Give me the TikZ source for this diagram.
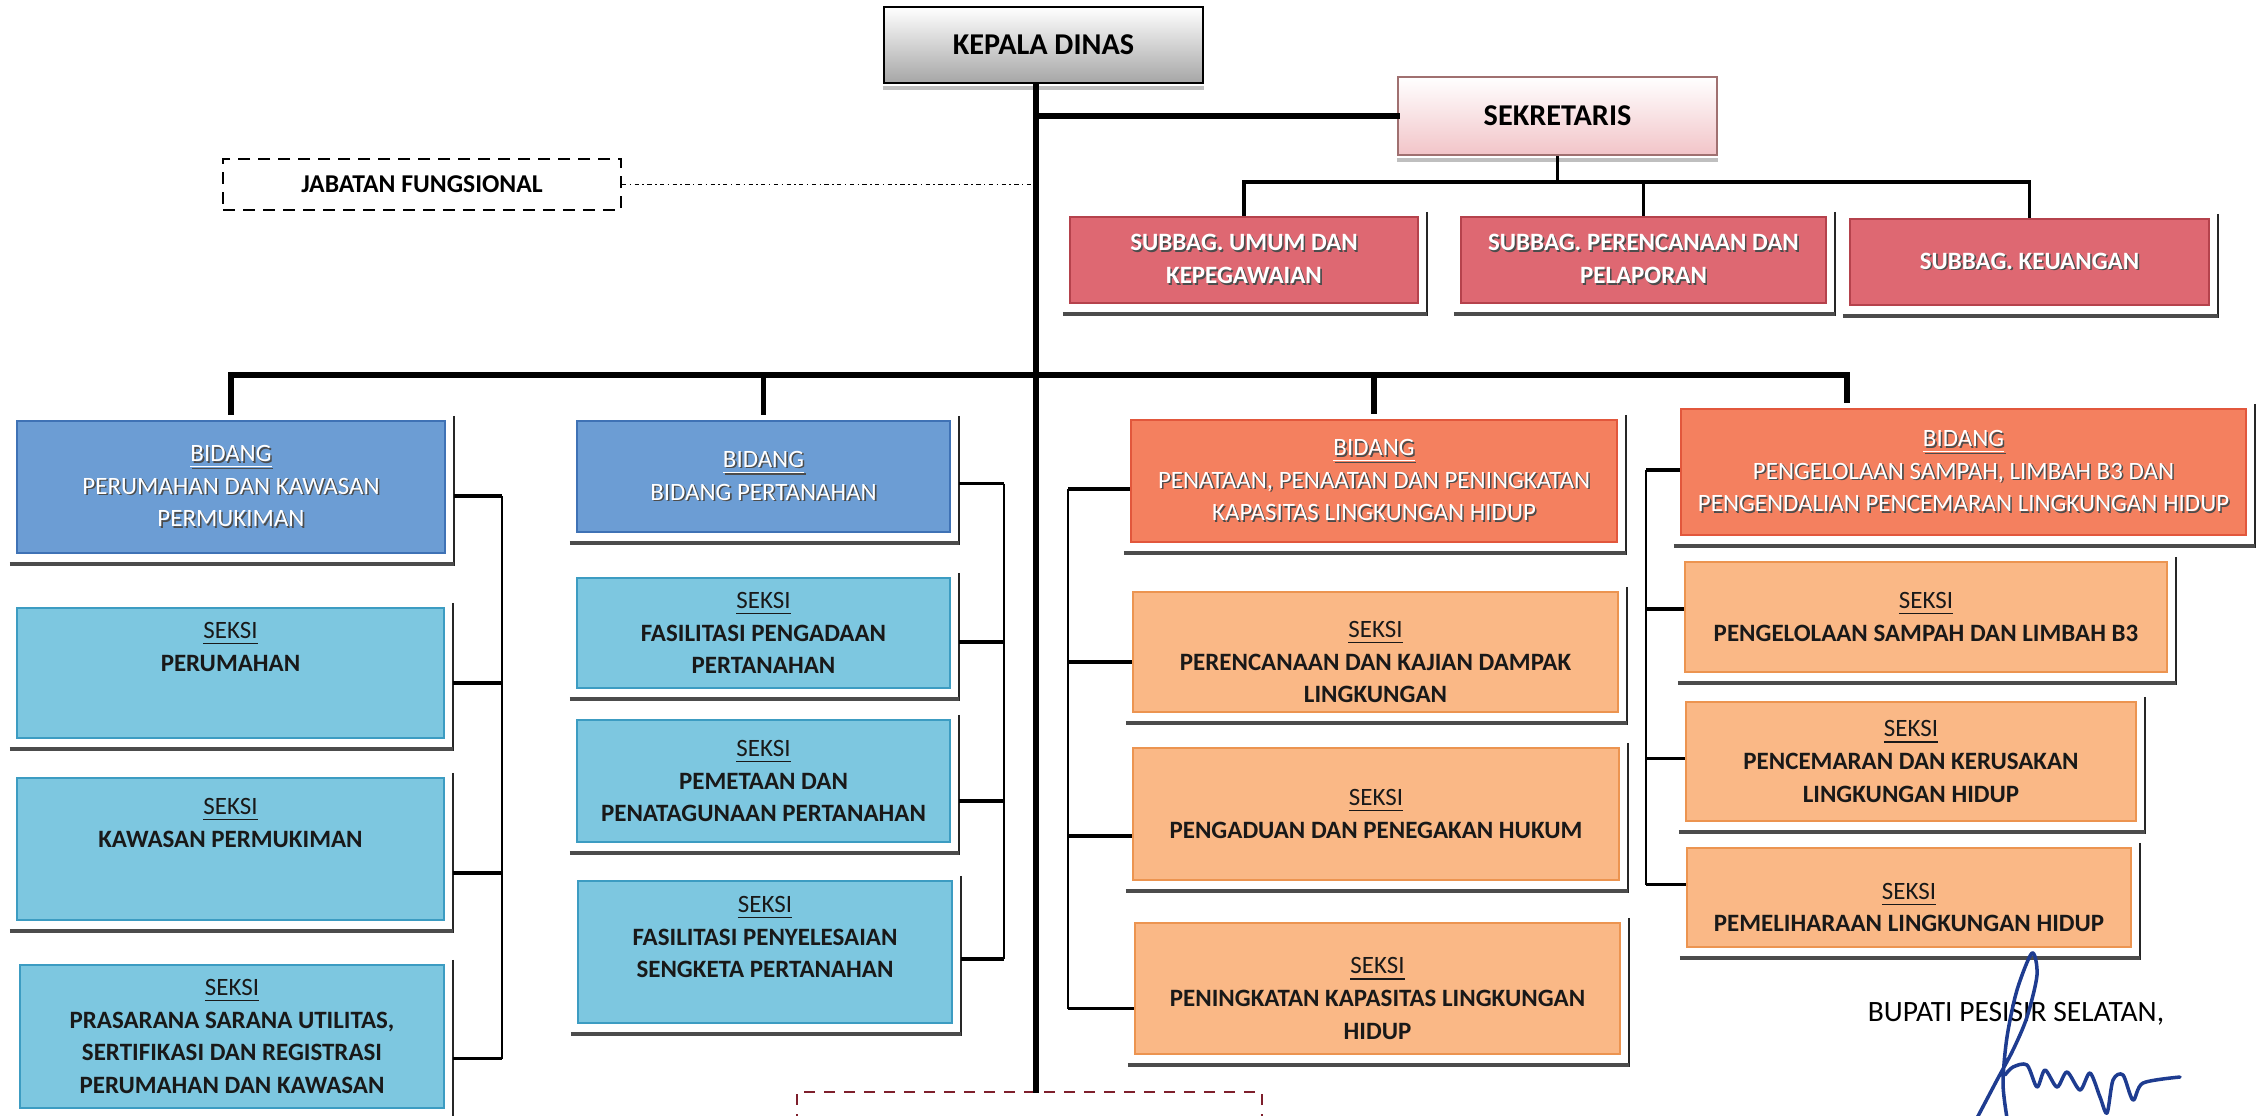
\documentclass[tikz,border=0pt]{standalone}
\usepackage{fontspec}
\setmainfont{Carlito}
\usepackage{xcolor}
\usepackage{tikz}
\usetikzlibrary{fit}
\definecolor{SubRed}{HTML}{DE6872}
\definecolor{SubLine}{HTML}{B5424C}
\definecolor{SekPink}{HTML}{F2C4C8}
\definecolor{SekLine}{HTML}{A07070}
\definecolor{BidBlue}{HTML}{6C9DD4}
\definecolor{BidBlueLine}{HTML}{3F72B5}
\definecolor{SkBlue}{HTML}{7DC7E0}
\definecolor{SkBlueLine}{HTML}{3C9CC2}
\definecolor{BidOrange}{HTML}{F4805F}
\definecolor{BidOrangeLine}{HTML}{E2573C}
\definecolor{SkOrange}{HTML}{FAB886}
\definecolor{SkOrangeLine}{HTML}{EC9450}
\definecolor{DashRed}{HTML}{7E1F2C}
\definecolor{Ink}{HTML}{1E3C90}
\newcommand\orgfont{\fontsize{7.1}{9.3}\selectfont}
\newcommand\headfont{\fontsize{8.6}{10}\selectfont\bfseries}
\newcommand\embos[1]{\makebox[0pt][l]{\hspace{.45pt}\raisebox{-.45pt}{\color{black!70}#1}}#1}

\begin{document}
\begin{tikzpicture}[
  x=0.1mm,y=-0.1mm,
  box/.style={draw,inner sep=0pt,line width=.6pt},
  headbox/.style={box,draw=black,line width=.8pt,top color=white,bottom color=black!35},
  sekbox/.style={box,draw=SekLine,top color=white,bottom color=SekPink},
  jfbox/.style={box,dashed,dash pattern=on 1.2mm off .8mm,line width=.6pt},
  dashbox/.style={box,draw=DashRed,dash pattern=on 1.1mm off .9mm,line width=.8pt},
  subbox/.style={box,draw=SubLine,fill=SubRed},
  bidblue/.style={box,draw=BidBlueLine,fill=BidBlue},
  skblue/.style={box,draw=SkBlueLine,fill=SkBlue},
  bidorange/.style={box,draw=BidOrangeLine,fill=BidOrange},
  skorange/.style={box,draw=SkOrangeLine,fill=SkOrange},
  htxt/.style={align=center,font=\headfont,inner sep=0pt},
  wtxt/.style={align=center,text=white,font=\orgfont,inner sep=0pt},
  wbtxt/.style={wtxt,font=\orgfont\bfseries},
  dtxt/.style={align=center,text=black!90,font=\orgfont\bfseries,inner sep=0pt},
  trunk/.style={line width=1.6pt,line cap=rect},
  link/.style={line width=.9pt},
  stub/.style={line width=1pt},
  brk/.style={line width=.6pt},
  dashdot/.style={line width=.5pt,dash pattern=on 1.2pt off 1pt on .4pt off 1pt},
  shline/.style={line width=.45pt,black!85},
  shstrip/.style={line width=1.1pt,black!70},
  sig/.style={draw=Ink,line width=1pt,line cap=round,line join=round}
]
\useasboundingbox (0,0) rectangle (2260,1115);
\clip (0,0) rectangle (2260,1115);

% top
\node[headbox,fit={(884,7) (1203,83)}] (kd) {};
\node[htxt] (kd-t) at (kd) {KEPALA DINAS};
\node[sekbox,fit={(1398,77) (1717,155)}] (sek) {};
\node[htxt] (sek-t) at (sek) {SEKRETARIS};
\node[jfbox,fit={(223,159) (621,210)}] (jf) {};
\node[htxt,font=\fontsize{7.3}{9}\selectfont\bfseries] (jf-t) at (jf) {JABATAN FUNGSIONAL};

% subbagian
\node[subbox,fit={(1070,217) (1418,303)}] (sb1) {};
\node[wbtxt] (sb1-t) at (sb1) {\embos{SUBBAG. UMUM DAN}\\\embos{KEPEGAWAIAN}};
\node[subbox,fit={(1461,217) (1826,303)}] (sb2) {};
\node[wbtxt] (sb2-t) at (sb2) {\embos{SUBBAG. PERENCANAAN DAN}\\\embos{PELAPORAN}};
\node[subbox,fit={(1850,219) (2209,305)}] (sb3) {};
\node[wbtxt] (sb3-t) at (sb3) {\embos{SUBBAG. KEUANGAN}};

% bidang
\node[bidblue,fit={(17,421) (445,553)}] (b1) {};
\node[wtxt] (b1-t) at (b1) {\embos{\underline{BIDANG}}\\\embos{PERUMAHAN DAN KAWASAN}\\\embos{PERMUKIMAN}};
\node[bidblue,fit={(577,421) (950,532)}] (b2) {};
\node[wtxt] (b2-t) at (b2) {\embos{\underline{BIDANG}}\\\embos{BIDANG PERTANAHAN}};
\node[bidorange,fit={(1131,420) (1617,542)}] (b3) {};
\node[wtxt] (b3-t) at (b3) {\embos{\underline{BIDANG}}\\\embos{PENATAAN, PENAATAN DAN PENINGKATAN}\\\embos{KAPASITAS LINGKUNGAN HIDUP}};
\node[bidorange,fit={(1681,409) (2246,535)}] (b4) {};
\node[wtxt] (b4-t) at (b4) {\embos{\underline{BIDANG}}\\\embos{PENGELOLAAN SAMPAH, LIMBAH B3 DAN}\\\embos{PENGENDALIAN PENCEMARAN LINGKUNGAN HIDUP}};

% seksi
\node[skblue,fit={(17,608) (444,738)}] (s1a) {};
\node[dtxt] (s1a-t) at ([yshift=2.6mm]s1a) {\underline{\textmd{SEKSI}}\\PERUMAHAN};
\node[skblue,fit={(17,778) (444,920)}] (s1b) {};
\node[dtxt] (s1b-t) at ([yshift=2.6mm]s1b) {\underline{\textmd{SEKSI}}\\KAWASAN PERMUKIMAN};
\node[skblue,fit={(20,965) (444,1108)}] (s1c) {};
\node[dtxt] (s1c-t) at (s1c) {\underline{\textmd{SEKSI}}\\PRASARANA SARANA UTILITAS,\\SERTIFIKASI DAN REGISTRASI\\PERUMAHAN DAN KAWASAN};
\node[skblue,fit={(577,578) (950,688)}] (s2a) {};
\node[dtxt] (s2a-t) at (s2a) {\underline{\textmd{SEKSI}}\\FASILITASI PENGADAAN\\PERTANAHAN};
\node[skblue,fit={(577,720) (950,842)}] (s2b) {};
\node[dtxt] (s2b-t) at (s2b) {\underline{\textmd{SEKSI}}\\PEMETAAN DAN\\PENATAGUNAAN PERTANAHAN};
\node[skblue,fit={(578,881) (952,1023)}] (s2c) {};
\node[dtxt] (s2c-t) at ([yshift=1.5mm]s2c) {\underline{\textmd{SEKSI}}\\FASILITASI PENYELESAIAN\\SENGKETA PERTANAHAN};
\node[skorange,fit={(1133,592) (1618,712)}] (s3a) {};
\node[dtxt] (s3a-t) at ([yshift=-1mm]s3a) {\underline{\textmd{SEKSI}}\\PERENCANAAN DAN KAJIAN DAMPAK\\LINGKUNGAN};
\node[skorange,fit={(1133,748) (1619,880)}] (s3b) {};
\node[dtxt] (s3b-t) at (s3b) {\underline{\textmd{SEKSI}}\\PENGADUAN DAN PENEGAKAN HUKUM};
\node[skorange,fit={(1135,923) (1620,1054)}] (s3c) {};
\node[dtxt] (s3c-t) at ([yshift=-1mm]s3c) {\underline{\textmd{SEKSI}}\\PENINGKATAN KAPASITAS LINGKUNGAN\\HIDUP};
\node[skorange,fit={(1685,562) (2167,672)}] (s4a) {};
\node[dtxt] (s4a-t) at (s4a) {\underline{\textmd{SEKSI}}\\PENGELOLAAN SAMPAH DAN LIMBAH B3};
\node[skorange,fit={(1686,702) (2136,821)}] (s4b) {};
\node[dtxt] (s4b-t) at (s4b) {\underline{\textmd{SEKSI}}\\PENCEMARAN DAN KERUSAKAN\\LINGKUNGAN HIDUP};
\node[skorange,fit={(1687,848) (2131,947)}] (s4c) {};
\node[dtxt] (s4c-t) at ([yshift=-1mm]s4c) {\underline{\textmd{SEKSI}}\\PEMELIHARAAN LINGKUNGAN HIDUP};

\node[dashbox,fit={(797,1092) (1262,1180)}] (dsh) {};

% shadows
\foreach \n in {sb1,sb2,sb3,b1,b2,b3,b4,s1a,s1b,s1c,s2a,s2b,s2c,s3a,s3b,s3c,s4a,s4b,s4c} {
  \draw[shline] ([shift={(8,-4)}]\n.north east) -- ([shift={(8,12)}]\n.south east);
  \draw[shstrip] ([shift={(-6,10)}]\n.south west) -- ([shift={(8,10)}]\n.south east);
}
\draw[shstrip,black!25] ([shift={(0,4)}]kd.south west) -- ([shift={(0,4)}]kd.south east);
\draw[shstrip,black!25] ([shift={(0,4)}]sek.south west) -- ([shift={(0,4)}]sek.south east);

% main lines
\coordinate (trk) at (1036,0);
\coordinate (sbbus) at (0,182);
\coordinate (bus) at (0,375);
\coordinate (bus4) at (1847,375);
\draw[trunk] (trk |- kd.south) -- (trk |- dsh.north);
\draw[trunk] (trk |- sek.west) -- (sek.west);
\draw[dashdot] (jf.east) -- (jf.east -| trk);
\draw[link] (sek.south) -- (sek.south |- sbbus);
\draw[link] (sb1.north) -- (sb1.north |- sbbus) -- (sb3.north |- sbbus) -- (sb3.north);
\draw[link] (sb2.north) -- (sb2.north |- sbbus);
\draw[trunk,shorten <=2.2pt,shorten >=2.2pt] (b1.north) -- (b1.north |- bus) -- (bus4) -- (bus4 |- b4.north);
\draw[trunk,shorten >=2.2pt] (b2.north |- bus) -- (b2.north);
\draw[trunk,shorten >=2.2pt] (b3.north |- bus) -- (b3.north);

% brackets
\coordinate (k1) at (502,0);
\coordinate (k2) at (1004,0);
\coordinate (k3) at (1068,0);
\coordinate (k4) at (1646,0);
\foreach \n/\dy in {b1/9,s1a/10,s1b/24,s1c/22}
  \draw[stub] ([shift={(8,\dy)}]\n.east) coordinate (t-\n) -- (t-\n -| k1);
\draw[brk] (t-b1 -| k1) -- (t-s1c -| k1);
\foreach \n/\dy in {b2/7,s2a/9,s2b/20,s2c/7}
  \draw[stub] ([shift={(8,\dy)}]\n.east) coordinate (t-\n) -- (t-\n -| k2);
\draw[brk] (t-b2 -| k2) -- (t-s2c -| k2);
\foreach \n/\dy in {b3/8,s3a/10,s3b/22,s3c/20}
  \draw[stub] ([shift={(0,\dy)}]\n.west) coordinate (t-\n) -- (t-\n -| k3);
\draw[brk] (t-b3 -| k3) -- (t-s3c -| k3);
\foreach \n/\dy in {b4/-2,s4a/-8,s4b/-3,s4c/-13}
  \draw[stub] ([shift={(0,\dy)}]\n.west) coordinate (t-\n) -- (t-\n -| k4);
\draw[brk] (t-b4 -| k4) -- (t-s4c -| k4);

% signature
\node[font=\fontsize{8.4}{10}\selectfont] (bupati) at (2016,1014) {BUPATI PESISIR SELATAN,};
\draw[sig] plot[smooth] coordinates {(2007,1118) (2003,1083) (2007,1037) (2017,990) (2032,953) (2037,975) (2027,1017) (2013,1050) (1997,1080) (1977,1118)};
\draw[sig] plot[smooth] coordinates {(2005,1075) (2013,1067) (2027,1065) (2037,1087) (2045,1070) (2057,1087) (2067,1072) (2080,1090) (2090,1073) (2100,1097) (2107,1113) (2113,1080) (2123,1075) (2133,1100) (2143,1083) (2180,1077)};
\end{tikzpicture}
\end{document}
